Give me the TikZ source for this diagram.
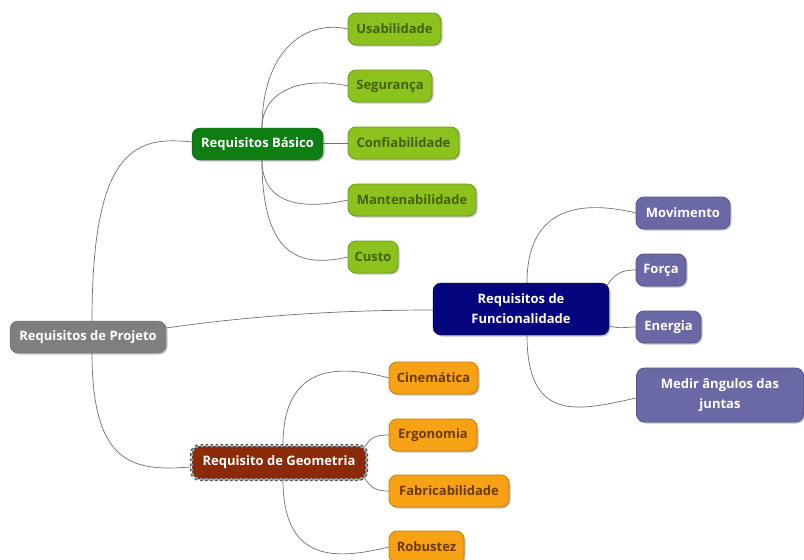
\documentclass[tikz,border=0pt]{standalone}
\usepackage{fontspec}
\setmainfont{Open Sans}
\usetikzlibrary{shadows}
\definecolor{rootgray}{HTML}{7F7F7F}
\definecolor{basgreen}{HTML}{0E7D12}
\definecolor{leafgreen}{HTML}{8CC21E}
\definecolor{leafgreenline}{HTML}{6E9A14}
\definecolor{leafgreentext}{HTML}{45620C}
\definecolor{funcnavy}{HTML}{05057E}
\definecolor{leafpurple}{HTML}{6A69A6}
\definecolor{leafpurpleline}{HTML}{54538C}
\definecolor{geored}{HTML}{8A2A08}
\definecolor{geodash}{HTML}{6FB0B8}
\definecolor{leaforange}{HTML}{F7A115}
\definecolor{leaforangeline}{HTML}{C97E06}
\definecolor{leaforangetext}{HTML}{6E3A02}
\definecolor{linkgray}{HTML}{707070}
\tikzset{
  box/.style={rounded corners=8pt, align=center, font=\bfseries\fontsize{13}{20}\selectfont,
    minimum height=32pt, inner xsep=4pt, inner ysep=2pt,
    drop shadow={opacity=0.45, shadow xshift=1.5pt, shadow yshift=-1.5pt}},
  rootbox/.style={box, fill=rootgray, draw=rootgray!85!black, text=white},
  basbox/.style={box, fill=basgreen, draw=basgreen!80!black, text=white},
  greenleaf/.style={box, fill=leafgreen, draw=leafgreenline, line width=0.8pt, text=leafgreentext},
  funcbox/.style={box, fill=funcnavy, draw=funcnavy!80!black, text=white},
  purpleleaf/.style={box, fill=leafpurple, draw=leafpurpleline, line width=0.8pt, text=white},
  geobox/.style={box, fill=geored, text=white,
    preaction={draw=black!70, line width=4pt},
    draw=geodash, line width=2pt, dash pattern=on 2.5pt off 2.5pt},
  orangeleaf/.style={box, fill=leaforange, draw=leaforangeline, line width=0.8pt, text=leaforangetext},
  link/.style={draw=linkgray, line width=0.7pt}
}
\begin{document}
\begin{tikzpicture}[x=1pt, y=-1pt]
\useasboundingbox (0,0) rectangle (804,560);
\fill[white] (0,0) rectangle (804,560);

% connectors (drawn first, nodes sit on top)
\coordinate (rtop) at (92,321);
\coordinate (rbot) at (92,353);
\coordinate (rright) at (166,328);
\coordinate (btop) at (262,128);
\coordinate (bbot) at (262,160);
\coordinate (ftop) at (527,283);
\coordinate (fbot) at (527,335);
\coordinate (gtop) at (283,445);
\coordinate (gbot) at (283,480);

\draw[link] (rtop) .. controls +(0,-175) and +(-55,-6) .. (192,142);
\draw[link] (rbot) .. controls +(0,115) and +(-55,4) .. (191,467);
\draw[link] (rright) .. controls +(70,-10) and +(-110,0) .. (433,310);

\draw[link] (btop) .. controls +(0,-75) and +(-45,-10) .. (348,29);
\draw[link] (btop) .. controls +(0,-38) and +(-45,-10) .. (348,86);
\draw[link] (323,143) -- (348,143);
\draw[link] (bbot) .. controls +(0,45) and +(-45,10) .. (348,200);
\draw[link] (bbot) .. controls +(0,100) and +(-45,10) .. (348,257);

\draw[link] (ftop) .. controls +(0,-80) and +(-50,-12) .. (636,213);
\draw[link] (604,290) .. controls +(10,-16) and +(-16,0) .. (636,270);
\draw[link] (609,326) .. controls +(12,3) and +(-12,0) .. (636,327);
\draw[link] (fbot) .. controls +(0,90) and +(-55,12) .. (636,398);

\draw[link] (gtop) .. controls +(0,-85) and +(-45,-12) .. (389,378);
\draw[link] (363,449) .. controls +(8,-12) and +(-14,0) .. (389,435);
\draw[link] (363,476) .. controls +(8,12) and +(-14,0) .. (389,491);
\draw[link] (gbot) .. controls +(0,85) and +(-50,12) .. (389,547);

% root
\node[rootbox, minimum width=156pt] (root) at (88,337) {Requisitos de Projeto};

% basic requirements
\node[basbox, minimum width=131pt] (bas) at (257.5,144) {Requisitos Básico};
\node[greenleaf, minimum width=93pt] (usa) at (394.5,29) {Usabilidade};
\node[greenleaf, minimum width=84pt] (seg) at (390,86) {Segurança};
\node[greenleaf, minimum width=111pt] (con) at (403.5,143) {Confiabilidade};
\node[greenleaf, minimum width=128pt] (man) at (412,200) {Mantenabilidade};
\node[greenleaf, minimum width=50pt] (cus) at (373,257) {Custo};

% functional requirements
\node[funcbox, minimum width=176pt, minimum height=52pt] (fun) at (521,309) {Requisitos de\\Funcionalidade};
\node[purpleleaf, minimum width=94pt] (mov) at (683,213) {Movimento};
\node[purpleleaf, minimum width=50pt] (forc) at (661,270) {Força};
\node[purpleleaf, minimum width=65pt] (ene) at (668.5,327) {Energia};
\node[purpleleaf, minimum width=167pt, minimum height=54pt] (med) at (720,395) {Medir ângulos das\\juntas};

% geometry requirements
\node[geobox, minimum width=174pt, minimum height=33pt] (geo) at (279,462.5) {Requisito de Geometria};
\node[orangeleaf, minimum width=89pt] (cin) at (433.5,378) {Cinemática};
\node[orangeleaf, minimum width=88pt] (erg) at (433,435) {Ergonomia};
\node[orangeleaf, minimum width=120pt] (fab) at (449,491) {Fabricabilidade};
\node[orangeleaf, minimum width=75pt] (rob) at (426.5,547) {Robustez};
\end{tikzpicture}
\end{document}
